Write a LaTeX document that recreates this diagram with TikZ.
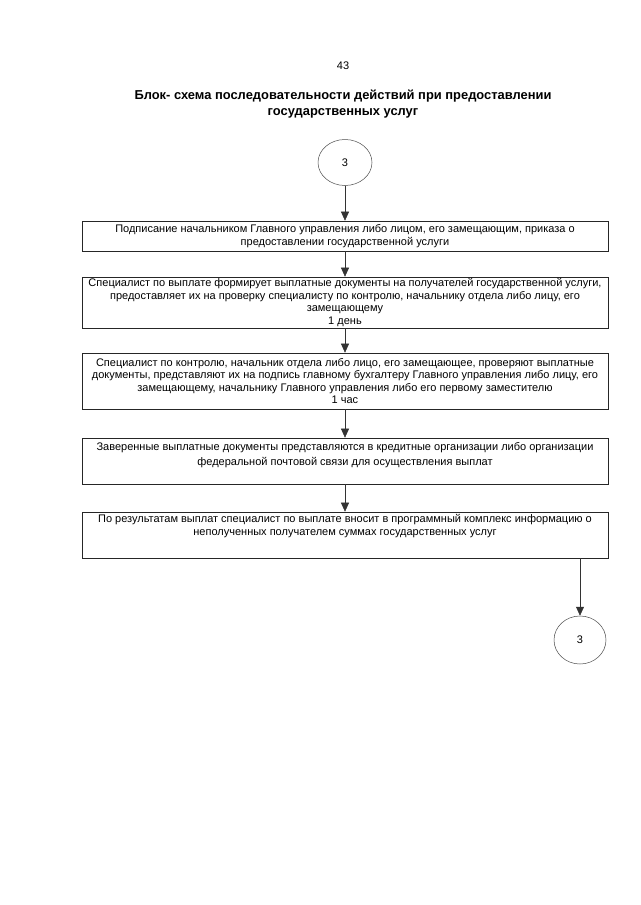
\documentclass[tikz,border=0pt]{standalone}
\usepackage{fontspec}
\setmainfont{Liberation Sans}
\usetikzlibrary{arrows.meta,shapes.geometric}
\begin{document}
\begin{tikzpicture}[x=1pt,y=-1pt,
  stepbox/.style={draw=black!85,line width=0.6pt,minimum width=526pt,align=center,
    font=\fontsize{11}{12.6}\selectfont,inner sep=0pt},
  conn/.style={ellipse,draw=black!70,line width=0.5pt,minimum width=54pt,minimum height=46pt,
    inner sep=0pt,font=\fontsize{11}{12}\selectfont},
  arr/.style={draw=black!80,line width=0.5pt,-{Triangle[width=8pt,length=9pt]}}]
\useasboundingbox[fill=white] (0,0) rectangle (640,905);
\node[font=\fontsize{11}{12}\selectfont] (pnum) at (343,66) {43};
\node[font=\bfseries\fontsize{12.9}{16}\selectfont,align=center] (title) at (343,104)
  {Блок- схема последовательности действий при предоставлении\\государственных услуг};
\node[conn] (c1) at (345,162.5) {3};
\node[stepbox,minimum height=30pt] (b1) at (345,236)
  {Подписание начальником Главного управления либо лицом, его замещающим, приказа о\\предоставлении государственной услуги};
\node[stepbox,minimum height=51pt] (b2) at (345,302.5)
  {Специалист по выплате формирует выплатные документы на получателей государственной услуги,\\предоставляет их на проверку специалисту по контролю, начальнику отдела либо лицу, его\\замещающему\\1 день};
\node[stepbox,minimum height=56pt] (b3) at (345,381)
  {Специалист по контролю, начальник отдела либо лицо, его замещающее, проверяют выплатные\\документы, представляют их на подпись главному бухгалтеру Главного управления либо лицу, его\\замещающему, начальнику Главного управления либо его первому заместителю\\1 час};
\node[stepbox,minimum height=46pt] (b4) at (345,461)
  {Заверенные выплатные документы представляются в кредитные организации либо организации\\[2pt]федеральной почтовой связи для осуществления выплат\\[2pt]};
\node[stepbox,minimum height=46pt] (b5) at (345,535)
  {По результатам выплат специалист по выплате вносит в программный комплекс информацию о\\неполученных получателем суммах государственных услуг\\[7pt]};
\node[conn,minimum width=52pt,minimum height=48pt] (c2) at (580,640) {3};
\coordinate (b5out) at (580,558);
\draw[arr] (c1.south) -- (b1.north);
\draw[arr] (b1.south) -- (b2.north);
\draw[arr] (b2.south) -- (b3.north);
\draw[arr] (b3.south) -- (b4.north);
\draw[arr] (b4.south) -- (b5.north);
\draw[arr] (b5out) -- (c2.north);
\end{tikzpicture}
\end{document}
